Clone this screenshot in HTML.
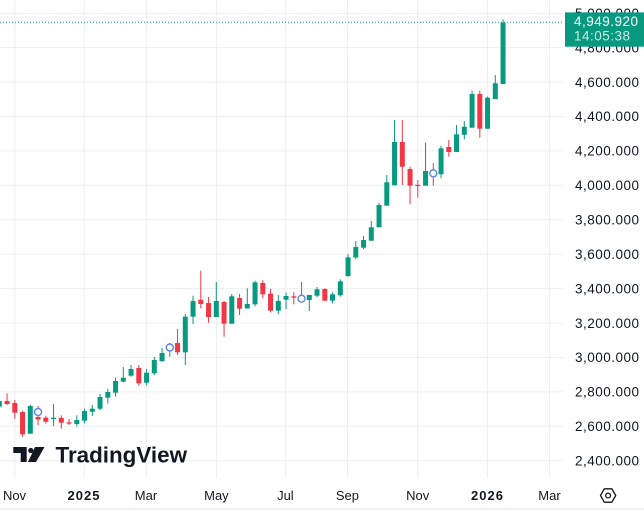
<!DOCTYPE html>
<html><head><meta charset="utf-8"><style>
html,body{margin:0;padding:0;background:#fff;}
svg{display:block;}
text{font-family:"Liberation Sans",sans-serif;}
</style></head><body>
<svg width="644" height="511" viewBox="0 0 644 511" xmlns="http://www.w3.org/2000/svg">
<rect width="644" height="511" fill="#fff"/>
<g stroke="#eeeff2" stroke-width="1">
<line x1="14.8" y1="0" x2="14.8" y2="478"/>
<line x1="84.2" y1="0" x2="84.2" y2="478"/>
<line x1="146.6" y1="0" x2="146.6" y2="478"/>
<line x1="216.4" y1="0" x2="216.4" y2="478"/>
<line x1="285.4" y1="0" x2="285.4" y2="478"/>
<line x1="347.4" y1="0" x2="347.4" y2="478"/>
<line x1="417.7" y1="0" x2="417.7" y2="478"/>
<line x1="487.5" y1="0" x2="487.5" y2="478"/>
<line x1="549.5" y1="0" x2="549.5" y2="478"/>
<line x1="0" y1="13.2" x2="563" y2="13.2"/>
<line x1="0" y1="47.6" x2="563" y2="47.6"/>
<line x1="0" y1="82.1" x2="563" y2="82.1"/>
<line x1="0" y1="116.5" x2="563" y2="116.5"/>
<line x1="0" y1="150.9" x2="563" y2="150.9"/>
<line x1="0" y1="185.3" x2="563" y2="185.3"/>
<line x1="0" y1="219.8" x2="563" y2="219.8"/>
<line x1="0" y1="254.2" x2="563" y2="254.2"/>
<line x1="0" y1="288.6" x2="563" y2="288.6"/>
<line x1="0" y1="323.1" x2="563" y2="323.1"/>
<line x1="0" y1="357.5" x2="563" y2="357.5"/>
<line x1="0" y1="391.9" x2="563" y2="391.9"/>
<line x1="0" y1="426.3" x2="563" y2="426.3"/>
<line x1="0" y1="460.8" x2="563" y2="460.8"/>
</g>
<g fill="#131722">
<path d="M13.3 447 H26.7 V462 H20.7 V453 H13.3 Z"/>
<circle cx="30.8" cy="450.5" r="2.6"/>
<path d="M35 447 H44.5 L36 462 H28 Z"/>
<text x="55.5" y="462.3" font-size="22.4" font-weight="bold">TradingView</text>
</g>
<line x1="0" y1="22.3" x2="563" y2="22.3" stroke="#089981" stroke-width="1" stroke-dasharray="1 2"/>
<g fill="#089981">
<rect x="-1.2" y="399" width="1" height="9"/><rect x="-3.2" y="401" width="5" height="5.7"/>
<rect x="29.8" y="405" width="1" height="28.7"/><rect x="27.8" y="406" width="5" height="27.7"/>
<rect x="53.05" y="404" width="1" height="22"/><rect x="51.05" y="417.7" width="5" height="1.3"/>
<rect x="76.3" y="415.3" width="1" height="11.4"/><rect x="74.3" y="420" width="5" height="4"/>
<rect x="84.05" y="408.7" width="1" height="14.6"/><rect x="82.05" y="411" width="5" height="9.7"/>
<rect x="91.8" y="405" width="1" height="10.7"/><rect x="89.8" y="408.7" width="5" height="3"/>
<rect x="99.55" y="394" width="1" height="16.3"/><rect x="97.55" y="397" width="5" height="11.7"/>
<rect x="107.3" y="388.7" width="1" height="15"/><rect x="105.3" y="392" width="5" height="5.7"/>
<rect x="115.05" y="377.7" width="1" height="19"/><rect x="113.05" y="381" width="5" height="11.7"/>
<rect x="122.8" y="367" width="1" height="15.3"/><rect x="120.8" y="377.7" width="5" height="4"/>
<rect x="130.55" y="365" width="1" height="11.7"/><rect x="128.55" y="369" width="5" height="6.7"/>
<rect x="146.05" y="369" width="1" height="16"/><rect x="144.05" y="372.7" width="5" height="10"/>
<rect x="153.8" y="357" width="1" height="18"/><rect x="151.8" y="360" width="5" height="13.3"/>
<rect x="161.55" y="348" width="1" height="14"/><rect x="159.55" y="353" width="5" height="8"/>
<rect x="169.3" y="343" width="1" height="13.7"/><rect x="167.3" y="346" width="5" height="5"/>
<rect x="184.8" y="314" width="1" height="51"/><rect x="182.8" y="316.7" width="5" height="35.6"/>
<rect x="192.55" y="295.7" width="1" height="28.3"/><rect x="190.55" y="301" width="5" height="15.7"/>
<rect x="215.8" y="282" width="1" height="35"/><rect x="213.8" y="301" width="5" height="16"/>
<rect x="231.3" y="294" width="1" height="29.7"/><rect x="229.3" y="296.3" width="5" height="27.4"/>
<rect x="246.8" y="288.3" width="1" height="20.2"/><rect x="244.8" y="304" width="5" height="4.5"/>
<rect x="254.55" y="280.7" width="1" height="25.6"/><rect x="252.55" y="282.3" width="5" height="22"/>
<rect x="277.8" y="295" width="1" height="19.3"/><rect x="275.8" y="301" width="5" height="9.7"/>
<rect x="285.55" y="292.7" width="1" height="16.3"/><rect x="283.55" y="296" width="5" height="3.7"/>
<rect x="308.8" y="295" width="1" height="16"/><rect x="306.8" y="295" width="5" height="5"/>
<rect x="316.55" y="287" width="1" height="10.3"/><rect x="314.55" y="289.3" width="5" height="6.4"/>
<rect x="332.05" y="292.3" width="1" height="11"/><rect x="330.05" y="294.3" width="5" height="6.4"/>
<rect x="339.8" y="279.3" width="1" height="17.4"/><rect x="337.8" y="281.3" width="5" height="14"/>
<rect x="347.55" y="254.3" width="1" height="22.4"/><rect x="345.55" y="257.3" width="5" height="18.7"/>
<rect x="355.3" y="241" width="1" height="18.3"/><rect x="353.3" y="247" width="5" height="10.5"/>
<rect x="363.05" y="236" width="1" height="13.3"/><rect x="361.05" y="240" width="5" height="7.7"/>
<rect x="370.8" y="221" width="1" height="19.7"/><rect x="368.8" y="227.3" width="5" height="13.4"/>
<rect x="378.55" y="202.7" width="1" height="24.6"/><rect x="376.55" y="205" width="5" height="22.3"/>
<rect x="386.3" y="175" width="1" height="30.7"/><rect x="384.3" y="182.3" width="5" height="23.4"/>
<rect x="394.05" y="120" width="1" height="65.3"/><rect x="392.05" y="142" width="5" height="43.3"/>
<rect x="425.05" y="142.7" width="1" height="43"/><rect x="423.05" y="171" width="5" height="14.7"/>
<rect x="440.55" y="145.7" width="1" height="32.6"/><rect x="438.55" y="148.3" width="5" height="26"/>
<rect x="456.05" y="125" width="1" height="27"/><rect x="454.05" y="134.3" width="5" height="17.7"/>
<rect x="463.8" y="121" width="1" height="18.3"/><rect x="461.8" y="126.7" width="5" height="8"/>
<rect x="471.55" y="90.7" width="1" height="37"/><rect x="469.55" y="94" width="5" height="33.7"/>
<rect x="487.05" y="96.7" width="1" height="32"/><rect x="485.05" y="97.7" width="5" height="31"/>
<rect x="494.8" y="75" width="1" height="24"/><rect x="492.8" y="83.3" width="5" height="15.7"/>
<rect x="502.55" y="19.3" width="1" height="64.7"/><rect x="500.55" y="22.7" width="5" height="61.3"/>
</g>
<g fill="#f23645">
<rect x="6.55" y="393.3" width="1" height="11.7"/><rect x="4.55" y="401" width="5" height="3"/>
<rect x="14.3" y="400" width="1" height="18.7"/><rect x="12.3" y="403" width="5" height="9.7"/>
<rect x="22.05" y="410.7" width="1" height="26"/><rect x="20.05" y="412" width="5" height="22.3"/>
<rect x="37.55" y="406" width="1" height="19"/><rect x="35.55" y="417" width="5" height="2.5"/>
<rect x="45.3" y="415.7" width="1" height="8"/><rect x="43.3" y="417.7" width="5" height="4"/>
<rect x="60.8" y="415.3" width="1" height="13.4"/><rect x="58.8" y="418" width="5" height="4.7"/>
<rect x="68.55" y="419" width="1" height="6"/><rect x="66.55" y="422.3" width="5" height="1.3"/>
<rect x="138.3" y="365" width="1" height="20.7"/><rect x="136.3" y="368" width="5" height="15.3"/>
<rect x="177.05" y="329" width="1" height="26"/><rect x="175.05" y="343" width="5" height="9.3"/>
<rect x="200.3" y="270.7" width="1" height="37.6"/><rect x="198.3" y="299.7" width="5" height="4.3"/>
<rect x="208.05" y="297" width="1" height="25.7"/><rect x="206.05" y="303" width="5" height="14"/>
<rect x="223.55" y="301" width="1" height="35.7"/><rect x="221.55" y="302" width="5" height="21.7"/>
<rect x="239.05" y="294" width="1" height="21"/><rect x="237.05" y="298" width="5" height="10.7"/>
<rect x="262.3" y="280.3" width="1" height="18"/><rect x="260.3" y="283" width="5" height="11.3"/>
<rect x="270.05" y="289" width="1" height="23.3"/><rect x="268.05" y="293.7" width="5" height="17"/>
<rect x="293.3" y="292.3" width="1" height="12"/><rect x="291.3" y="296.3" width="5" height="1.4"/>
<rect x="301.05" y="282" width="1" height="20"/><rect x="299.05" y="296" width="5" height="4"/>
<rect x="324.3" y="288.3" width="1" height="12.4"/><rect x="322.3" y="289" width="5" height="11.7"/>
<rect x="401.8" y="120" width="1" height="65"/><rect x="399.8" y="142" width="5" height="24.7"/>
<rect x="409.55" y="166.7" width="1" height="37.6"/><rect x="407.55" y="169" width="5" height="16.7"/>
<rect x="417.3" y="180" width="1" height="17.7"/><rect x="415.3" y="184.8" width="5" height="1.2"/>
<rect x="432.8" y="163" width="1" height="22.7"/><rect x="430.8" y="170" width="5" height="7"/>
<rect x="448.3" y="140" width="1" height="16.7"/><rect x="446.3" y="147" width="5" height="5"/>
<rect x="479.3" y="90.7" width="1" height="47"/><rect x="477.3" y="94" width="5" height="34.7"/>
</g>
<g fill="#fff" stroke="#5b82f5" stroke-width="1.4">
<circle cx="38.05" cy="412" r="3.5"/>
<circle cx="169.8" cy="347.5" r="3.5"/>
<circle cx="301.55" cy="298.7" r="3.5"/>
<circle cx="433.3" cy="173.3" r="3.5"/>
</g>
<g font-size="13.5" fill="#131722" text-anchor="end" letter-spacing="0.5">
<text x="639.5" y="17.9">5,000.000</text>
<text x="639.5" y="52.3">4,800.000</text>
<text x="639.5" y="86.8">4,600.000</text>
<text x="639.5" y="121.2">4,400.000</text>
<text x="639.5" y="155.6">4,200.000</text>
<text x="639.5" y="190">4,000.000</text>
<text x="639.5" y="224.5">3,800.000</text>
<text x="639.5" y="258.9">3,600.000</text>
<text x="639.5" y="293.3">3,400.000</text>
<text x="639.5" y="327.8">3,200.000</text>
<text x="639.5" y="362.2">3,000.000</text>
<text x="639.5" y="396.6">2,800.000</text>
<text x="639.5" y="431">2,600.000</text>
<text x="639.5" y="465.5">2,400.000</text>
</g>
<rect x="565" y="12.4" width="79" height="34.3" fill="#089981"/>
<text x="574" y="26" font-size="13.5" letter-spacing="0.5" fill="#fff">4,949.920</text>
<text x="574" y="40.4" font-size="13.5" letter-spacing="0.5" fill="#fff" fill-opacity="0.78">14:05:38</text>
<g font-size="13" fill="#131722" text-anchor="middle">
<text x="14.5" y="499.8">Nov</text>
<text x="84" y="499.8" font-weight="bold" letter-spacing="1">2025</text>
<text x="146" y="499.8">Mar</text>
<text x="216.4" y="499.8">May</text>
<text x="285.4" y="499.8">Jul</text>
<text x="347.4" y="499.8">Sep</text>
<text x="417.7" y="499.8">Nov</text>
<text x="487.5" y="499.8" font-weight="bold" letter-spacing="1">2026</text>
<text x="549.5" y="499.8">Mar</text>
</g>
<g fill="none" stroke="#131722" stroke-width="1.3" stroke-linejoin="round">
<path d="M600.5 495.5 L604.3 488.8 H611.9 L615.7 495.5 L611.9 502.2 H604.3 Z"/>
<circle cx="608.1" cy="495.5" r="2.4"/>
</g>
<line x1="0" y1="509" x2="644" y2="509" stroke="#e0e3eb" stroke-width="1"/>
</svg>
</body></html>
